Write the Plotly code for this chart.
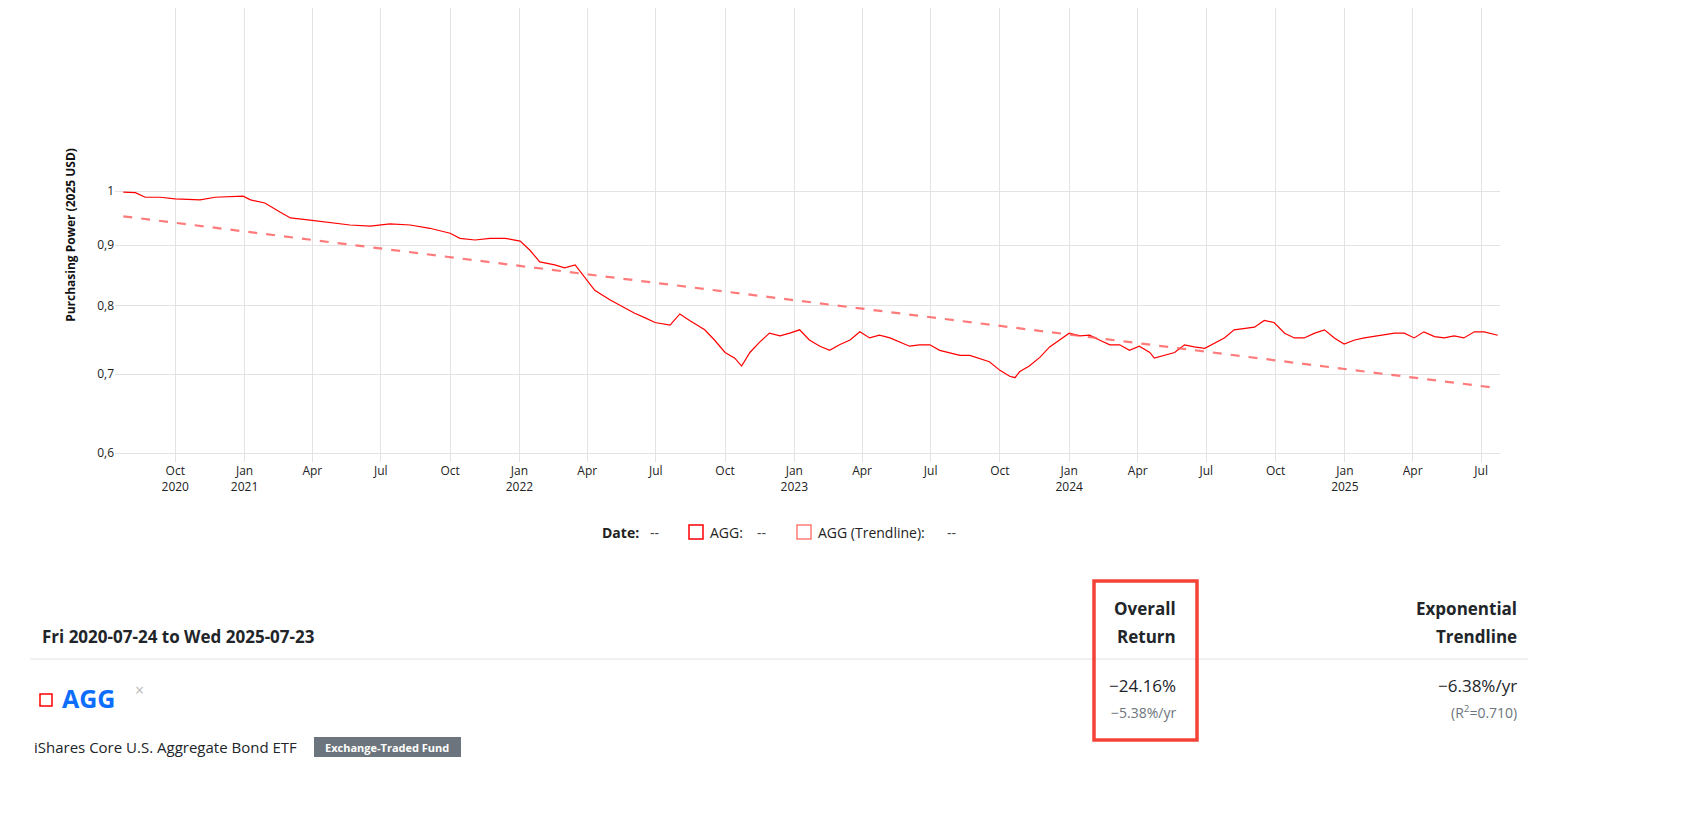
import plotly.graph_objects as go

dates = ["2020-07-24", "2020-08-09", "2020-08-22", "2020-09-11", "2020-10-01", "2020-11-03", "2020-11-23",
         "2020-12-30", "2021-01-09", "2021-01-28", "2021-02-17", "2021-03-03", "2021-03-29", "2021-04-25",
         "2021-05-21", "2021-06-17", "2021-07-13", "2021-08-09", "2021-09-04", "2021-10-01", "2021-10-14",
         "2021-11-03", "2021-11-23", "2021-12-13", "2022-01-02", "2022-01-15", "2022-01-28", "2022-02-17",
         "2022-03-02", "2022-03-16", "2022-03-29", "2022-04-11", "2022-05-01", "2022-05-21", "2022-06-03",
         "2022-06-17", "2022-06-30", "2022-07-20", "2022-08-02", "2022-08-15", "2022-09-04", "2022-09-17",
         "2022-10-01", "2022-10-14", "2022-10-23", "2022-11-03", "2022-11-16", "2022-11-29", "2022-12-13",
         "2022-12-26", "2023-01-08", "2023-01-21", "2023-02-04", "2023-02-17", "2023-03-02", "2023-03-16",
         "2023-03-29", "2023-04-11", "2023-04-24", "2023-05-08", "2023-05-21", "2023-06-03", "2023-06-16",
         "2023-06-30", "2023-07-13", "2023-07-26", "2023-08-09", "2023-08-22", "2023-09-04", "2023-09-17",
         "2023-10-01", "2023-10-14", "2023-10-21", "2023-10-27", "2023-11-09", "2023-11-23", "2023-12-06",
         "2023-12-19", "2024-01-01", "2024-01-15", "2024-01-28", "2024-02-10", "2024-02-24", "2024-03-08",
         "2024-03-21", "2024-04-03", "2024-04-17", "2024-04-23", "2024-05-07", "2024-05-20", "2024-06-02",
         "2024-06-15", "2024-06-29", "2024-07-12", "2024-07-25", "2024-08-07", "2024-08-21", "2024-09-03",
         "2024-09-16", "2024-09-29", "2024-10-13", "2024-10-26", "2024-11-08", "2024-11-22", "2024-12-05",
         "2024-12-18", "2024-12-31", "2025-01-14", "2025-01-27", "2025-02-09", "2025-02-22", "2025-03-08",
         "2025-03-21", "2025-04-03", "2025-04-16", "2025-04-30", "2025-05-13", "2025-05-26", "2025-06-08",
         "2025-06-22", "2025-07-05", "2025-07-23"]
agg = [0.998, 0.997, 0.988, 0.988, 0.985, 0.983, 0.988,
       0.990, 0.983, 0.977, 0.960, 0.949, 0.945, 0.941,
       0.936, 0.934, 0.938, 0.936, 0.930, 0.921, 0.912,
       0.909, 0.912, 0.912, 0.907, 0.891, 0.871, 0.866,
       0.861, 0.866, 0.844, 0.824, 0.809, 0.796, 0.788,
       0.781, 0.774, 0.770, 0.787, 0.777, 0.763, 0.748,
       0.730, 0.722, 0.711, 0.730, 0.745, 0.758, 0.754,
       0.758, 0.763, 0.748, 0.739, 0.733, 0.741, 0.748,
       0.760, 0.751, 0.755, 0.751, 0.745, 0.739, 0.741,
       0.741, 0.733, 0.730, 0.726, 0.726, 0.722, 0.717,
       0.705, 0.697, 0.695, 0.703, 0.711, 0.723, 0.738,
       0.748, 0.758, 0.754, 0.755, 0.748, 0.741, 0.741,
       0.733, 0.739, 0.730, 0.722, 0.726, 0.730, 0.741,
       0.738, 0.736, 0.744, 0.751, 0.763, 0.765, 0.767,
       0.777, 0.774, 0.758, 0.751, 0.751, 0.758, 0.763,
       0.751, 0.742, 0.748, 0.751, 0.753, 0.755, 0.758,
       0.758, 0.751, 0.760, 0.753, 0.751, 0.754, 0.751,
       0.760, 0.760, 0.755]
trend_dates = ["2020-07-24", "2025-07-23"]
trend = [0.952, 0.681]

ytick_vals = [0.6, 0.7, 0.8, 0.9, 1]
ytick_text = ["0,6", "0,7", "0,8", "0,9", "1"]
xtick_vals = ["2020-10-01", "2021-01-01", "2021-04-01", "2021-07-01", "2021-10-01", "2022-01-01",
              "2022-04-01", "2022-07-01", "2022-10-01", "2023-01-01", "2023-04-01", "2023-07-01",
              "2023-10-01", "2024-01-01", "2024-04-01", "2024-07-01", "2024-10-01", "2025-01-01",
              "2025-04-01", "2025-07-01"]
xtick_text = ["Oct<br>2020", "Jan<br>2021", "Apr", "Jul", "Oct", "Jan<br>2022", "Apr", "Jul", "Oct",
              "Jan<br>2023", "Apr", "Jul", "Oct", "Jan<br>2024", "Apr", "Jul", "Oct", "Jan<br>2025",
              "Apr", "Jul"]

FONT = "Open Sans"
OFF = 8  # page body margin
L, R, PH = 107, 1492, 454


def px(x):
    return (x - OFF - L) / (R - L)


def py(y):
    return (PH - (y - OFF)) / PH


fig = go.Figure()
fig.add_trace(go.Scatter(x=dates, y=agg, mode="lines", line=dict(color="#ff0000", width=1.2),
                         name="AGG", showlegend=False))
fig.add_trace(go.Scatter(x=trend_dates, y=trend, mode="lines",
                         line=dict(color="rgba(255,90,90,0.8)", width=2.2, dash="dash"),
                         name="AGG (Trendline)", showlegend=False))

ann = []
shapes = []


def text(x, y, s, size=14, color="#212529", anchor="left", bold=False):
    if bold:
        s = "<b>" + s + "</b>"
    ann.append(dict(x=px(x), y=py(y), xref="paper", yref="paper", text=s, showarrow=False,
                    xanchor=anchor, yanchor="middle", font=dict(size=size, color=color, family=FONT)))


def box(x0, y0, x1, y1, color, width=1.5, fill="rgba(0,0,0,0)"):
    shapes.append(dict(type="rect", xref="paper", yref="paper", x0=px(x0), x1=px(x1), y0=py(y1), y1=py(y0),
                       line=dict(color=color, width=width), fillcolor=fill))


# hover legend row
text(600, 532, "Date:", 14, "#222", bold=True)
text(648, 532, "--", 14, "#444")
box(689, 525, 703, 539, "#ff0000")
text(708, 532, "AGG:", 14, "#222")
text(755, 532, "--", 14, "#444")
box(797, 525, 811, 539, "rgba(255,90,90,0.8)")
text(816, 532, "AGG (Trendline):", 14, "#222")
text(945, 532, "--", 14, "#444")

# table
text(40, 636, "Fri 2020-07-24 to Wed 2025-07-23", 17, bold=True)
text(1178, 608, "Overall", 17, anchor="right", bold=True)
text(1178, 636, "Return", 17, anchor="right", bold=True)
text(1519, 608, "Exponential", 17, anchor="right", bold=True)
text(1519, 636, "Trendline", 17, anchor="right", bold=True)
shapes.append(dict(type="line", xref="paper", yref="paper", x0=px(30), x1=px(1528), y0=py(659), y1=py(659),
                   line=dict(color="#dee2e6", width=1)))
box(1094, 581, 1197, 740, "#f44336", width=3.5)
box(40, 694, 52, 706, "#ff0000", width=1.5)
text(60, 698, "AGG", 25, "#0d6efd", bold=True)
text(133, 690, "×", 16, "#bbbbbb")
text(1178, 685, "−24.16%", 17, anchor="right")
text(1178, 712, "−5.38%/yr", 14, "#6c757d", anchor="right")
text(1519, 685, "−6.38%/yr", 17, anchor="right")
text(1519, 712, "(R<sup>2</sup>=0.710)", 14, "#6c757d", anchor="right")
text(32, 747, "iShares Core U.S. Aggregate Bond ETF", 15)
shapes.append(dict(type="rect", xref="paper", yref="paper", x0=px(314), x1=px(461), y0=py(757), y1=py(737),
                   fillcolor="#6c757d", line=dict(width=0), layer="below"))
text(387, 747, "Exchange-Traded Fund", 11, "white", anchor="center", bold=True)

fig.update_layout(
    width=1696, height=828,
    margin=dict(l=L, r=1696 - R, t=0, b=828 - PH),
    paper_bgcolor="white", plot_bgcolor="white",
    font=dict(family=FONT, size=12, color="#222"),
    showlegend=False,
    xaxis=dict(type="date", range=["2020-07-13", "2025-07-26"], tickvals=xtick_vals, ticktext=xtick_text,
               showgrid=True, gridcolor="#e3e3e3", gridwidth=1, zeroline=False, showline=False,
               tickfont=dict(size=12, color="#222"), ticks=""),
    yaxis=dict(type="log", range=[-0.2294, 0.155], tickvals=ytick_vals, ticktext=ytick_text,
               showgrid=True, gridcolor="#e3e3e3", gridwidth=1, zeroline=False, showline=False,
               tickfont=dict(size=12, color="#222"),
               title=dict(text="<b>Purchasing Power (2025 USD)</b>", font=dict(size=12, color="#111"),
                          standoff=18)),
    annotations=ann, shapes=shapes,
)

fig.write_html("out.html")
